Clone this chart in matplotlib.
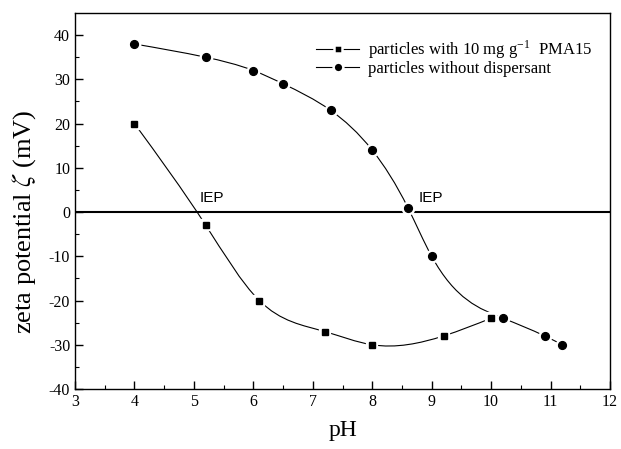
import numpy as np
import matplotlib
matplotlib.use("Agg")
import matplotlib.pyplot as plt
from matplotlib.path import Path
from matplotlib.patches import PathPatch
from matplotlib.lines import Line2D

# data
ph_pma = [4.0, 5.2, 6.1, 7.2, 8.0, 9.2, 10.0]
zeta_pma = [20, -3, -20, -27, -30, -28, -24]
ph_bare = [4.0, 5.2, 6.0, 6.5, 7.3, 8.0, 8.6, 9.0, 10.2, 10.9, 11.2]
zeta_bare = [38, 35, 32, 29, 23, 14, 1, -10, -24, -28, -30]

xticks = [3, 4, 5, 6, 7, 8, 9, 10, 11, 12]
yticks = [-40, -30, -20, -10, 0, 10, 20, 30, 40]

plt.rcParams['font.family'] = ['Liberation Serif', 'DejaVu Serif']
plt.rcParams['mathtext.fontset'] = 'stix'
plt.rcParams['axes.unicode_minus'] = False


def spline_path(x, y):
    """natural cubic spline y(x) through the points, as bezier segments"""
    x = np.asarray(x, float)
    y = np.asarray(y, float)
    n = len(x)
    h = np.diff(x)
    A = np.zeros((n, n))
    b = np.zeros(n)
    A[0, 0] = A[-1, -1] = 1
    for i in range(1, n - 1):
        A[i, i - 1] = h[i - 1]
        A[i, i] = 2 * (h[i - 1] + h[i])
        A[i, i + 1] = h[i]
        b[i] = 6 * ((y[i + 1] - y[i]) / h[i] - (y[i] - y[i - 1]) / h[i - 1])
    M = np.linalg.solve(A, b)
    # slopes at the knots
    d = np.zeros(n)
    for i in range(n - 1):
        d[i] = (y[i + 1] - y[i]) / h[i] - h[i] * (2 * M[i] + M[i + 1]) / 6
    d[-1] = (y[-1] - y[-2]) / h[-1] + h[-1] * (M[-2] + 2 * M[-1]) / 6
    verts = [(x[0], y[0])]
    codes = [Path.MOVETO]
    for i in range(n - 1):
        t = h[i] / 3
        verts += [(x[i] + t, y[i] + d[i] * t),
                  (x[i + 1] - t, y[i + 1] - d[i + 1] * t),
                  (x[i + 1], y[i + 1])]
        codes += [Path.CURVE4] * 3
    return Path(verts, codes)


fig = plt.figure(figsize=(6.21, 4.49), dpi=100)
ax = fig.add_axes([0.1208, 0.1336, 0.8615, 0.8374])

for xs, ys in [(ph_pma, zeta_pma), (ph_bare, zeta_bare)]:
    ax.add_patch(PathPatch(spline_path(xs, ys), fill=False, lw=0.8,
                           edgecolor='black', zorder=2))

ax.axhline(0, color='black', lw=1.5, zorder=1)

# white halo under the markers gives the little gaps in the curves
ax.plot(ph_pma, zeta_pma, ls='none', marker='s', ms=5, mfc='white',
        mec='white', mew=4.5, zorder=3)
ax.plot(ph_bare, zeta_bare, ls='none', marker='o', ms=5.5, mfc='white',
        mec='white', mew=4.5, zorder=3)
ax.plot(ph_pma, zeta_pma, ls='none', marker='s', ms=4.8, color='black', zorder=4)
ax.plot(ph_bare, zeta_bare, ls='none', marker='o', ms=5.6, color='black', zorder=4)

ax.text(5.1, 2.2, 'IEP', family='Liberation Sans', fontsize=11)
ax.text(8.78, 2.2, 'IEP', family='Liberation Sans', fontsize=11)

ax.set_xlim(3, 12)
ax.set_ylim(-40, 45)
ax.set_xticks(xticks)
ax.set_yticks(yticks)
ax.set_xticks(np.arange(3.5, 12, 1.0), minor=True)
ax.set_yticks(np.arange(-35, 45, 10), minor=True)
ax.tick_params(which='major', direction='in', length=6, width=1, labelsize=11.5)
ax.tick_params(which='minor', direction='in', length=3, width=0.8)
for s in ax.spines.values():
    s.set_linewidth(1.0)

ax.set_xlabel('pH', fontsize=17, labelpad=7)
ax.set_ylabel(r'zeta potential $\zeta$ (mV)', fontsize=19)
ax.yaxis.set_label_coords(-0.07, 0.445)

h1 = Line2D([], [], color='black', lw=0.8, marker='s', ms=6, mfc='black',
            mec='white', mew=1.8)
h2 = Line2D([], [], color='black', lw=0.8, marker='o', ms=7, mfc='black',
            mec='white', mew=1.8)
ax.legend([h1, h2], [r'particles with 10 mg g$^{\mathregular{-1}}$  PMA15',
                     'particles without dispersant'],
          loc='upper right', bbox_to_anchor=(0.996, 0.972), frameon=False,
          fontsize=12, handlelength=2.6, handletextpad=0.55, labelspacing=0.0)

fig.savefig('out.png', dpi=100)
